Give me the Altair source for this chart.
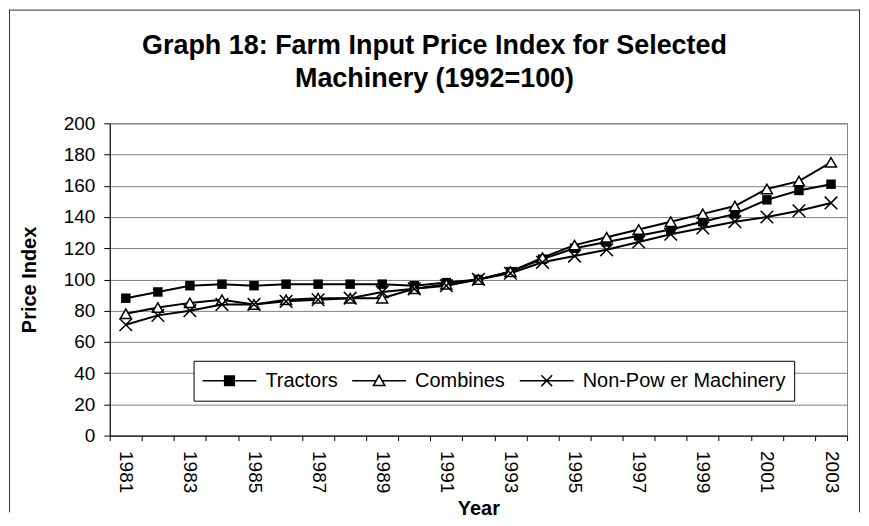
import altair as alt
import pandas as pd

years = list(range(1981, 2004))
tractors = [88, 92, 96, 97, 96, 97, 97, 97, 97, 96, 98, 100, 105, 113, 120, 124, 128, 132, 137, 142, 151, 157, 161]
combines = [78, 82, 85, 87, 84, 87, 88, 88, 88, 94, 97, 100, 105, 114, 122, 127, 132, 137, 142, 147, 158, 163, 175]
non_power = [71, 77, 80, 84, 84, 86, 87, 88, 92, 94, 96, 100, 104, 111, 115, 119, 124, 129, 133, 137, 140, 144, 149]
series_names = ["Tractors", "Combines", "Non-Pow er Machinery"]
y_ticks = [0, 20, 40, 60, 80, 100, 120, 140, 160, 180, 200]
title_lines = ["Graph 18: Farm Input Price Index for Selected", "Machinery (1992=100)"]

rows = []
for name, vals in zip(series_names, [tractors, combines, non_power]):
    for yr, v in zip(years, vals):
        rows.append({"Year": yr, "Series": name, "Value": v})
df = pd.DataFrame(rows)

FONT = "Liberation Sans"

x_enc = alt.X(
    "Year:O",
    scale=alt.Scale(type="band", paddingInner=0, paddingOuter=0),
    axis=alt.Axis(
        title="Year",
        labelAngle=90,
        labelExpr="datum.value % 2 == 1 ? datum.label : ''",
        tickBand="extent",
        grid=False,
        tickSize=5,
        labelPadding=10,
        labelFontSize=19,
        titleFontSize=20,
        titlePadding=6,
    ),
)
y_enc = alt.Y(
    "Value:Q",
    scale=alt.Scale(domain=[0, 200], nice=False),
    axis=alt.Axis(
        title="Price Index",
        values=y_ticks,
        grid=True,
        tickSize=6,
        labelPadding=9,
        labelFontSize=19,
        titleFontSize=20,
        titlePadding=24,
    ),
)

base = alt.Chart(df)

lines = base.mark_line(color="black", strokeWidth=2).encode(
    x=x_enc, y=y_enc, detail="Series:N"
)

pts_tr = base.transform_filter(alt.datum.Series == series_names[0]).mark_point(
    shape="square", filled=True, color="black", size=90, opacity=1
).encode(x=x_enc, y=y_enc)

pts_co = base.transform_filter(alt.datum.Series == series_names[1]).mark_point(
    shape="triangle-up", filled=True, fill="white", stroke="black", strokeWidth=1.5,
    size=120, opacity=1
).encode(x=x_enc, y=y_enc)

pts_np = base.transform_filter(alt.datum.Series == series_names[2]).mark_point(
    shape="M-1,-1L1,1M1,-1L-1,1", filled=False, stroke="black", strokeWidth=1.5,
    size=160, opacity=1
).encode(x=x_enc, y=y_enc)

legend_paths = [
    "M-1,0H1M-0.18,-0.18H0.18V0.18H-0.18Z",
    "M-1,0H-0.105M0.105,0H1M0,-0.2L0.21,0.18L-0.21,0.18Z",
    "M-1,0H1M-0.2,-0.2L0.2,0.2M0.2,-0.2L-0.2,0.2",
]
legend_fills = ["black", "white", "white"]
legend_strokes = ["black", "black", "black"]

leg = alt.Legend(
    title=None,
    orient="none",
    legendX=84,
    legendY=238,
    direction="horizontal",
    columns=3,
    fillColor="white",
    strokeColor="black",
    padding=8,
    clipHeight=24,
    symbolSize=2916,
    symbolStrokeColor="black",
    symbolStrokeWidth=1.5,
    symbolOpacity=1,
    labelFont=FONT,
    labelFontSize=20,
    labelColor="black",
    labelLimit=400,
    labelOffset=8,
    columnPadding=13,
)

legend_layer = base.transform_filter("false").mark_point(
    filled=True, strokeWidth=1.5, opacity=1
).encode(
    shape=alt.Shape("Series:N", scale=alt.Scale(domain=series_names, range=legend_paths), legend=leg),
    fill=alt.Fill("Series:N", scale=alt.Scale(domain=series_names, range=legend_fills), legend=leg),
    stroke=alt.Stroke("Series:N", scale=alt.Scale(domain=series_names, range=legend_strokes), legend=leg),
)

frame_df = pd.DataFrame({"k": [0]})
frame_style = dict(color="#333333", strokeWidth=1)
frame_left = alt.Chart(frame_df).mark_rule(**frame_style).encode(
    x=alt.value(-100.5), y=alt.value(-114), y2=alt.value(390)
)
frame_top = alt.Chart(frame_df).mark_rule(**frame_style).encode(
    x=alt.value(-101), x2=alt.value(752), y=alt.value(-113.5)
)
frame_right = alt.Chart(frame_df).mark_rule(**frame_style).encode(
    x=alt.value(751.5), y=alt.value(-114), y2=alt.value(390)
)

chart = alt.layer(
    frame_left, frame_top, frame_right, lines, pts_tr, pts_co, pts_np, legend_layer
).properties(
    width=739,
    height=313,
    padding=0,
    title=alt.TitleParams(
        text=title_lines,
        font=FONT,
        fontSize=27,
        fontWeight="bold",
        color="black",
        anchor="middle",
        frame="bounds",
        lineHeight=33,
        offset=-84,
    ),
    background="white",
).configure_view(
    stroke="#808080", strokeWidth=1
).configure_axis(
    labelFont=FONT,
    titleFont=FONT,
    labelColor="black",
    titleColor="black",
    titleFontWeight="bold",
    domainColor="black",
    tickColor="black",
    gridColor="#808080",
    gridWidth=1,
    domainWidth=1,
)

chart.save("out.html", embed_options={"renderer": "svg", "actions": False})
